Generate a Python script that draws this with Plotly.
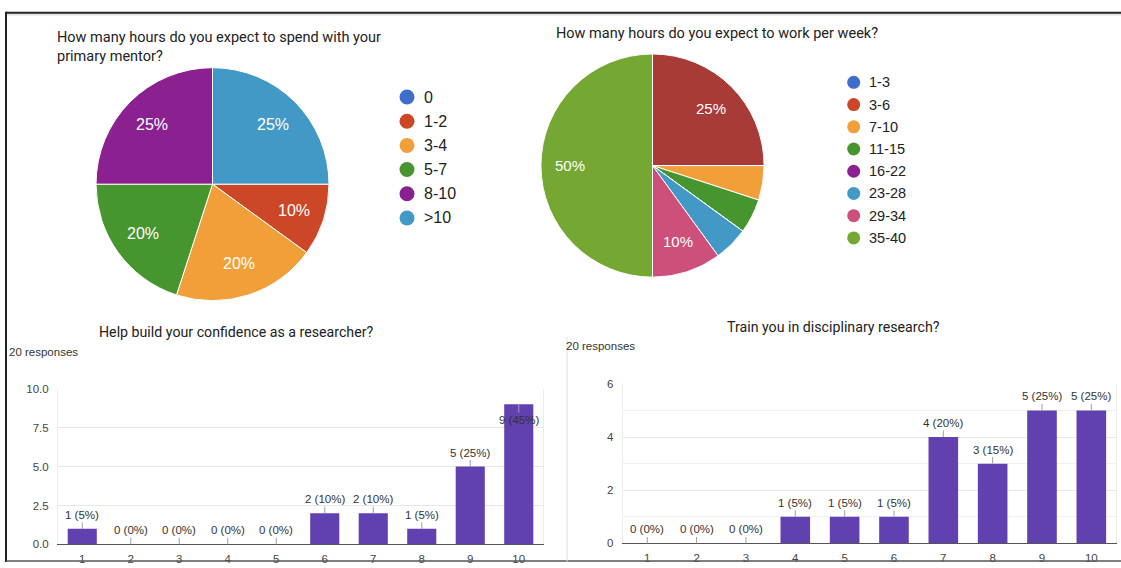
import math
import plotly.graph_objects as go

W, H = 1121, 568
FONT = "Liberation Sans"
TFONT = "Roboto"

# ---------------- data ----------------
mentor_title = "How many hours do you expect to spend with your<br>primary mentor?"
mentor_labels = ["0", "1-2", "3-4", "5-7", "8-10", ">10"]
mentor_counts = [0, 2, 4, 4, 5, 5]
mentor_colors = ["#3e6dcc", "#cc4727", "#f19f38", "#46952f", "#8b2190", "#4399c5"]

work_title = "How many hours do you expect to work per week?"
work_labels = ["1-3", "3-6", "7-10", "11-15", "16-22", "23-28", "29-34", "35-40", ">40"]
work_counts = [0, 0, 1, 1, 0, 1, 2, 10, 5]
work_colors = ["#3e6dcc", "#cc4727", "#f19f38", "#46952f", "#8b2190", "#4399c5",
               "#cc5079", "#74a833", "#a83a37"]
work_legend_shown = 8  # legend only lists first eight entries

scale = [1, 2, 3, 4, 5, 6, 7, 8, 9, 10]
confidence_title = "Help build your confidence as a researcher?"
confidence_counts = [1, 0, 0, 0, 0, 2, 2, 1, 5, 9]
train_title = "Train you in disciplinary research?"
train_counts = [0, 0, 0, 1, 1, 1, 4, 3, 5, 5]
responses_text = "20 responses"

BAR = "#6141af"


def px(x):
    return x / W


def py(y):
    return 1 - y / H


fig = go.Figure()
annotations = []
shapes = []


# ---------------- pies ----------------
def add_pie(labels, counts, colors, cx, cy, r, fsize):
    fig.add_trace(go.Pie(
        labels=labels, values=counts, sort=False, direction="clockwise", rotation=90,
        marker=dict(colors=colors, line=dict(color="white", width=1)),
        textinfo="none", hoverinfo="label+percent", showlegend=False,
        domain=dict(x=[px(cx - r), px(cx + r)], y=[py(cy + r), py(cy - r)]),
    ))
    total = sum(counts)
    start = 90.0
    for c in counts:
        frac = c / total
        mid = math.radians(start + frac * 180)
        start += frac * 360
        if frac >= 0.1:
            lx = cx + 0.72 * r * math.sin(mid)
            ly = cy - 0.72 * r * math.cos(mid)
            annotations.append(dict(
                x=px(lx), y=py(ly), xref="paper", yref="paper", showarrow=False,
                xanchor="center", yanchor="middle",
                text=f"{round(frac * 100)}%", font=dict(family=FONT, size=fsize, color="white"),
            ))


add_pie(mentor_labels, mentor_counts, mentor_colors, 212.5, 182, 119, 16)
add_pie(work_labels, work_counts, work_colors, 652.5, 163, 114, 15)


# legends drawn on a full-figure pixel axis
def add_legend(labels, colors, x0, y0, step, msize, fsize):
    ys = [y0 + i * step for i in range(len(labels))]
    fig.add_trace(go.Scatter(
        x=[x0] * len(labels), y=ys, mode="markers", xaxis="x3", yaxis="y3",
        marker=dict(size=msize, color=colors), hoverinfo="skip", showlegend=False,
    ))
    for lab, yy in zip(labels, ys):
        annotations.append(dict(
            x=x0 + msize / 2 + 7, y=yy, xref="x3", yref="y3", xanchor="left", yanchor="middle",
            showarrow=False, text=lab.replace(">", "&gt;"),
            font=dict(family=FONT, size=fsize, color="#222222"),
        ))


add_legend(mentor_labels, mentor_colors, 407, 93, 24.7, 15, 16)
add_legend(work_labels[:work_legend_shown], work_colors[:work_legend_shown], 853.7, 78, 22.7, 13, 14.5)

# ---------------- bars ----------------
bar_specs = [
    dict(counts=confidence_counts, title=confidence_title, left=58, right=543, top=391, bottom=550,
         ymax=10, dtick=2.5, fmt=".1f", minor=None, xa="x", ya="y", tcx=236, tcy=333,
         rx=6.5, ry=353),
    dict(counts=train_counts, title=train_title, left=622.6, right=1116, top=386, bottom=549,
         ymax=6, dtick=2, fmt="d", minor=1, xa="x2", ya="y2", tcx=833, tcy=328,
         rx=563.6, ry=347),
]

axis_layout = {}
for i, s in enumerate(bar_specs):
    fig.add_trace(go.Bar(
        x=scale, y=s["counts"], xaxis=s["xa"], yaxis=s["ya"], width=0.6,
        marker=dict(color=BAR, line=dict(width=0)), showlegend=False,
        hovertemplate="%{x}: %{y}<extra></extra>",
    ))
    xk = "xaxis" if i == 0 else "xaxis2"
    yk = "yaxis" if i == 0 else "yaxis2"
    axis_layout[xk] = dict(
        domain=[px(s["left"]), px(s["right"])], anchor=s["ya"], range=[0.5, 10.5],
        tickmode="array", tickvals=scale, ticktext=[str(v) for v in scale],
        showgrid=False, zeroline=False, showline=True, linecolor="#555555", linewidth=1,
        ticks="", ticklabelstandoff=4, tickfont=dict(family=FONT, size=11.5, color="#444444"),
        fixedrange=True,
    )
    ya = dict(
        domain=[py(s["bottom"]), py(s["top"])], anchor=s["xa"], range=[0, s["ymax"]],
        dtick=s["dtick"], tick0=0, tickformat=s["fmt"], showgrid=True, gridcolor="#e8e8e8",
        zeroline=False, showline=True, linecolor="#ececec", mirror=True, ticks="",
        ticklabelstandoff=6, tickfont=dict(family=FONT, size=11.5, color="#444444"),
        fixedrange=True,
    )
    if s["minor"]:
        ya["minor"] = dict(dtick=s["minor"], showgrid=True, gridcolor="#f0f0f0")
    axis_layout[yk] = ya

    plot_h = s["bottom"] - s["top"]
    for xv, v in zip(scale, s["counts"]):
        bar_top = s["bottom"] - v / s["ymax"] * plot_h
        pct = round(v / sum(s["counts"]) * 100)
        above_fits = bar_top - 14 - 7 >= s["top"]
        annotations.append(dict(
            x=xv, y=v, xref=s["xa"], yref=s["ya"], text=f"{v} ({pct}%)",
            showarrow=True, arrowhead=0, arrowwidth=1, arrowcolor="#a0a0a0",
            ax=0, ay=-14 if above_fits else 16, standoff=0,
            xanchor="center", yanchor="middle",
            font=dict(family=FONT, size=11.5, color="#333333"),
        ))
    annotations.append(dict(
        x=px(s["tcx"]), y=py(s["tcy"]), xref="paper", yref="paper", showarrow=False,
        xanchor="center", yanchor="middle",
        text=s["title"], font=dict(family=TFONT, size=14.2, color="#222222"),
    ))
    annotations.append(dict(
        x=px(s["rx"]), y=py(s["ry"]), xref="paper", yref="paper", xanchor="left",
        yanchor="middle",
        showarrow=False, text=responses_text, font=dict(family=FONT, size=11.5, color="#333333"),
    ))

# pie titles
annotations.append(dict(
    x=px(55), y=py(41.5), xref="paper", yref="paper", xanchor="left", yanchor="middle",
    align="left", showarrow=False, text=mentor_title,
    font=dict(family=TFONT, size=14.5, color="#222222"),
))
annotations.append(dict(
    x=px(717), y=py(28), xref="paper", yref="paper", showarrow=False,
    xanchor="center", yanchor="middle",
    text=work_title, font=dict(family=TFONT, size=14.5, color="#222222"),
))

# frame lines
shapes += [
    dict(type="line", xref="paper", yref="paper", x0=px(6), x1=1, y0=py(7), y1=py(7),
         line=dict(color="#222222", width=2)),
    dict(type="line", xref="paper", yref="paper", x0=px(6), x1=1, y0=py(9), y1=py(9),
         line=dict(color="#d0d0d0", width=1)),
    dict(type="line", xref="paper", yref="paper", x0=px(6), x1=px(6), y0=py(6), y1=0,
         line=dict(color="#222222", width=2)),
    dict(type="line", xref="paper", yref="paper", x0=px(6), x1=1, y0=py(567), y1=py(567),
         line=dict(color="#555555", width=1.5)),
    dict(type="line", xref="paper", yref="paper", x0=px(567), x1=px(567), y0=py(338), y1=0,
         line=dict(color="#dddddd", width=1)),
]

fig.update_layout(
    width=W, height=H, margin=dict(l=0, r=0, t=0, b=0),
    paper_bgcolor="white", plot_bgcolor="rgba(0,0,0,0)",
    font=dict(family=FONT),
    xaxis3=dict(domain=[0, 1], range=[0, W], visible=False, anchor="y3", fixedrange=True),
    yaxis3=dict(domain=[0, 1], range=[H, 0], visible=False, anchor="x3", fixedrange=True),
    annotations=annotations, shapes=shapes, showlegend=False,
    **axis_layout,
)

fig.write_html(
    "out.html",
    config={"displayModeBar": False},
    post_script="document.body.style.margin='0';document.body.style.overflow='hidden';",
)
